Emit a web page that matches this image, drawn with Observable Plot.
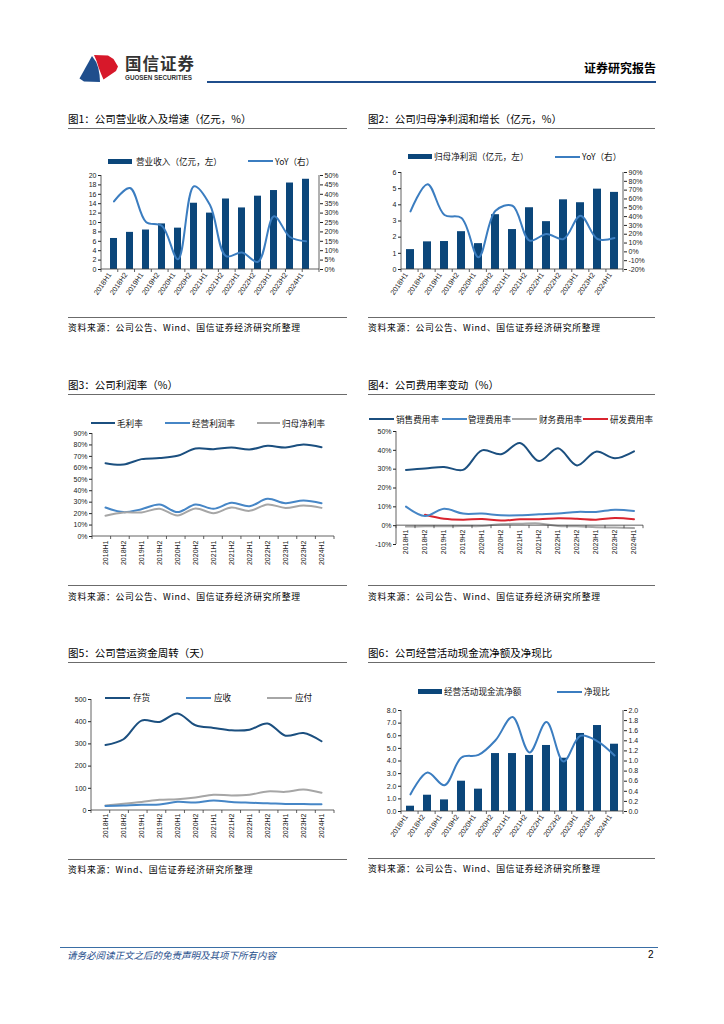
<!DOCTYPE html>
<html><head><meta charset="utf-8">
<script src="https://cdn.jsdelivr.net/npm/d3@7"></script>
<script src="https://cdn.jsdelivr.net/npm/@observablehq/plot@0.6"></script>
<style>
body{margin:0;background:#fff;}
#page{position:relative;width:724px;height:1024px;overflow:hidden;font-family:"Noto Sans CJK SC","Noto Sans",sans-serif;color:#000;background:#fff;}
.t{position:absolute;white-space:nowrap;}
.title{font-size:10.5px;line-height:12px;}
.src{font-size:8.8px;line-height:11px;letter-spacing:0.7px;}
.hr{position:absolute;height:0;border-top:1px solid #6b6b6b;}
.legtxt{position:absolute;white-space:nowrap;font-size:8.6px;line-height:12px;color:#111;}
svg{overflow:visible;}
</style></head>
<body><div id="page"></div>
<script>
// ---------------- data ----------------
const periods = ["2018H1","2018H2","2019H1","2019H2","2020H1","2020H2","2021H1","2021H2","2022H1","2022H2","2023H1","2023H2","2024H1"];

const revenue      = [6.6, 7.9, 8.4, 9.7, 8.8, 14.1, 12.0, 15.0, 13.1, 15.6, 16.8, 18.4, 19.2];
const revenueYoY   = [36.2, 43.3, 25.3, 23.1, 5.5, 44.3, 34.3, 7.1, 9.0, 4.1, 28.3, 17.3, 15.0];
const revTicks     = [0,2,4,6,8,10,12,14,16,18,20];
const revYoYTicks  = [0,5,10,15,20,25,30,35,40,45,50];

const netProfit    = [1.23, 1.71, 1.73, 2.34, 1.60, 3.39, 2.47, 3.82, 2.96, 4.31, 4.13, 4.97, 4.77];
const netProfitYoY = [45.9, 76.8, 41.8, 38.4, -6.1, 46.7, 52.3, 12.8, 20.3, 14.6, 41.0, 14.6, 15.8];
const npTicks      = [0,1,2,3,4,5,6];
const npYoYTicks   = [-20,-10,0,10,20,30,40,50,60,70,80,90];

const grossMargin  = [64.1, 62.9, 67.6, 68.5, 70.5, 76.9, 76.3, 77.8, 76.0, 79.2, 77.8, 80.4, 78.0];
const opMargin     = [25.3, 21.3, 23.9, 28.0, 21.3, 28.0, 24.2, 29.4, 26.5, 32.9, 29.1, 31.5, 29.1];
const netMargin    = [18.1, 21.0, 21.0, 24.2, 18.4, 24.5, 20.4, 25.3, 22.4, 28.0, 25.0, 27.1, 25.0];
const marginTicks  = [0,10,20,30,40,50,60,70,80,90];

const sellingRate  = [29.6, 30.3, 31.2, 29.6, 40.0, 37.9, 43.9, 34.3, 41.1, 32.0, 39.3, 35.8, 39.5];
const adminRate    = [10.1, 5.1, 9.0, 6.4, 6.4, 5.5, 5.5, 6.0, 6.4, 7.3, 7.3, 8.5, 7.8];
const financeRate  = [-0.5, -0.3, -0.3, -0.2, -0.2, 0.8, 1.0, 1.2, -0.2, -0.3, -0.8, -1.0, -1.3];
const rdRate       = [null, 5.8, 3.7, 3.2, 3.5, 2.7, 3.4, 3.4, 3.9, 3.7, 3.2, 4.1, 3.4];
const expenseTicks = [-10,0,10,20,30,40,50];

const inventoryDays  = [295, 321, 405, 399, 437, 384, 372, 361, 364, 392, 337, 349, 312];
const receivableDays = [20, 23, 26, 27, 39, 36, 45, 38, 35, 33, 29, 29, 28];
const payableDays    = [23, 30, 38, 48, 51, 59, 71, 68, 71, 86, 84, 95, 80];
const daysTicks      = [0,100,200,300,400,500];

const opCashFlow = [0.42, 1.29, 0.92, 2.40, 1.77, 4.59, 4.59, 4.44, 5.23, 4.22, 6.18, 6.81, 5.33];
const cashRatio  = [0.34, 0.77, 0.52, 1.07, 1.12, 1.41, 1.87, 1.17, 1.77, 0.99, 1.50, 1.39, 1.11];
const cfTicks    = [0,1,2,3,4,5,6,7,8];
const ratioTicks = [0,0.2,0.4,0.6,0.8,1.0,1.2,1.4,1.6,1.8,2.0];

// ---------------- styles ----------------
const NAVY="#0b467a", BLUE="#3b7dc0", DARK="#1b4f7f", MID="#4686c6", GREY="#a6a6a6", RED="#d9242f", AX="#3a3a3a";
const FONT="'Liberation Sans', Arial, sans-serif";
const page = document.getElementById("page");

function div(cls, x, y, html, extra){
  const d=document.createElement("div"); d.className=cls; d.style.left=x+"px"; d.style.top=y+"px";
  if(html!=null) d.innerHTML=html; if(extra) Object.assign(d.style, extra); page.appendChild(d); return d;
}
function hr(x1,x2,y,color,w){ return div("hr",x1,y,null,{width:(x2-x1)+"px",borderTop:(w||1)+"px solid "+(color||"#6b6b6b")}); }
function place(svg,x,y){ svg.style.position="absolute"; svg.style.left=x+"px"; svg.style.top=y+"px"; page.appendChild(svg); }

function legend(y, items){
  items.forEach(it=>{
    if(it.type==="bar") div("t",it.x,y-2.5,"",{width:it.w+"px",height:"5px",background:it.color});
    else div("t",it.x,y-1.2,"",{width:it.w+"px",height:"2.4px",background:it.color});
    div("legtxt",it.tx,y-6.5,it.label);
  });
}

function finishAxes(svg,o){
  const sy=svg.scale("y");
  const g=d3.select(svg).append("g").attr("stroke",AX).attr("stroke-width",0.8).attr("fill","none");
  const x0=o.mL, x1=o.W-o.mR, yT=o.mT, yB=o.H-o.mB;
  const yA=sy.apply(o.axisAt!=null?o.axisAt:sy.domain[0]);
  g.append("line").attr("x1",x0).attr("x2",x0).attr("y1",yT).attr("y2",yB);
  if(o.right) g.append("line").attr("x1",x1).attr("x2",x1).attr("y1",yT).attr("y2",yB);
  g.append("line").attr("x1",x0).attr("x2",x1).attr("y1",yA).attr("y2",yA);
  const step=(x1-x0)/o.n;
  for(let i=0;i<=o.n;i++) g.append("line").attr("x1",x0+i*step).attr("x2",x0+i*step).attr("y1",yA).attr("y2",yA+3);
}

function dualChart(o){
  const [L0,L1]=o.leftDomain,[R0,R1]=o.rightDomain;
  const toL=v=>L0+(v-R0)*(L1-L0)/(R1-R0);
  const fromL=v=>Math.round((R0+(v-L0)*(R1-R0)/(L1-L0))*1000)/1000;
  const rows=o.cats.map((c,i)=>({cat:c,bar:o.bars[i],line:o.line[i]}));
  const svg=Plot.plot({
    width:o.W,height:o.H,marginLeft:o.mL,marginRight:o.mR,marginTop:o.mT,marginBottom:o.mB,
    style:{fontFamily:FONT,fontSize:"7px",color:"#222",background:"transparent",overflow:"visible"},
    x:{type:"band",domain:o.cats,paddingInner:0.54,paddingOuter:0.27,label:null},
    y:{domain:o.leftDomain,label:null},
    marks:[
      Plot.barY(rows,{x:"cat",y:"bar",fill:NAVY}),
      Plot.line(rows,{x:"cat",y:d=>toL(d.line),stroke:BLUE,strokeWidth:2,curve:"catmull-rom"}),
      Plot.axisY({ticks:o.leftTicks,anchor:"left",label:null,tickSize:3,tickPadding:2,tickFormat:o.leftFmt,fontSize:7}),
      Plot.axisY({ticks:o.rightTicks.map(toL),anchor:"right",label:null,tickSize:3,tickPadding:2,tickFormat:d=>o.rightFmt(fromL(d)),fontSize:7}),
      Plot.axisX({tickSize:0,label:null,tickRotate:-55,tickPadding:4,dx:-4,fontSize:7.2})
    ]
  });
  finishAxes(svg,{...o,n:o.cats.length,right:true});
  place(svg,o.x,o.y);
}

function lineChart(o){
  const marks=o.series.map(s=>Plot.line(o.cats.map((c,i)=>({cat:c,v:s.values[i]})),
    {x:"cat",y:"v",stroke:s.color,strokeWidth:2,curve:"catmull-rom"}));
  marks.push(Plot.axisY({ticks:o.ticks,anchor:"left",label:null,tickSize:3,tickPadding:2,tickFormat:o.fmt,fontSize:7}));
  if(o.labelsAtZero){
    marks.push(Plot.text(o.cats,{x:d=>d,y:()=>0,text:d=>d,rotate:-90,textAnchor:"end",lineAnchor:"middle",dy:4,fontSize:7,fill:"#222"}));
  } else {
    marks.push(Plot.axisX({tickSize:0,label:null,tickRotate:-90,tickPadding:o.pad||4,fontSize:7}));
  }
  const svg=Plot.plot({
    width:o.W,height:o.H,marginLeft:o.mL,marginRight:o.mR,marginTop:o.mT,marginBottom:o.mB,
    style:{fontFamily:FONT,fontSize:"7px",color:"#222",background:"transparent",overflow:"visible"},
    x:{type:"band",domain:o.cats,padding:0,label:null,axis:o.labelsAtZero?null:undefined},
    y:{domain:o.domain,label:null},
    marks
  });
  finishAxes(svg,{...o,n:o.cats.length,right:false,axisAt:o.labelsAtZero?0:null});
  place(svg,o.x,o.y);
}

// ---------------- header ----------------
const logo=document.createElementNS("http://www.w3.org/2000/svg","svg");
logo.setAttribute("width","52");logo.setAttribute("height","36");logo.setAttribute("viewBox","70 50 52 36");
logo.innerHTML='<path d="M79.5,78.5 L92,56 Q96.5,61 98.3,68 Q100,75 100,82 L84,81.5 Z" fill="#1f4e8c"/>'+
  '<path d="M94,55 L108,55.5 L113.5,59 L118,66.5 L116,71 L103.5,79.5 Q101,74 98.8,68 Q97,61 94,55 Z" fill="#d7182a"/>';
place(logo,70,50);
div("t",125,52.5,"国信证券",{fontSize:"16.5px",fontWeight:"700",letterSpacing:"1px",color:"#333",lineHeight:"20px"});
div("t",125,73.5,"GUOSEN SECURITIES",{fontFamily:FONT,fontSize:"6.3px",fontWeight:"700",color:"#333",lineHeight:"8px"});
hr(207,656,80.5,"#1f4e8c",2);
div("t",578,60.5,"证券研究报告",{fontSize:"12px",fontWeight:"700",lineHeight:"14px",width:"78px",textAlign:"right"});

// ---------------- titles / sources ----------------
div("t title",68,113,"图1：公司营业收入及增速（亿元，%）"); hr(68,347,128,"#6b6b6b");
div("t title",368,113,"图2：公司归母净利润和增长（亿元，%）"); hr(368,655,128,"#6b6b6b");
hr(68,347,317,"#6b6b6b"); div("t src",68,322,"资料来源：公司公告、Wind、国信证券经济研究所整理");
hr(368,655,317,"#6b6b6b"); div("t src",368,322,"资料来源：公司公告、Wind、国信证券经济研究所整理");

div("t title",68,379,"图3：公司利润率（%）"); hr(68,347,394,"#6b6b6b");
div("t title",368,379,"图4：公司费用率变动（%）"); hr(368,655,394,"#6b6b6b");
hr(68,347,585,"#6b6b6b"); div("t src",68,590.5,"资料来源：公司公告、Wind、国信证券经济研究所整理");
hr(368,655,585,"#6b6b6b"); div("t src",368,590.5,"资料来源：公司公告、Wind、国信证券经济研究所整理");

div("t title",68,647,"图5：公司营运资金周转（天）"); hr(68,347,662,"#6b6b6b");
div("t title",368,647,"图6：公司经营活动现金流净额及净现比"); hr(368,655,662,"#6b6b6b");
hr(68,347,859,"#6b6b6b"); div("t src",68,864,"资料来源：Wind、国信证券经济研究所整理");
hr(368,655,858,"#6b6b6b"); div("t src",368,863,"资料来源：公司公告、Wind、国信证券经济研究所整理");

// ---------------- charts ----------------
const pct=d=>d+"%";
dualChart({x:68,y:168,W:290,H:140,mL:33,mR:39,mT:7,mB:39,cats:periods,bars:revenue,line:revenueYoY,
  leftDomain:[0,20],leftTicks:revTicks,leftFmt:d=>d,rightDomain:[0,50],rightTicks:revYoYTicks,rightFmt:pct});
legend(161,[{type:"bar",color:NAVY,x:108,w:24,tx:136,label:"营业收入（亿元，左）"},
            {type:"line",color:BLUE,x:248,w:25,tx:275,label:"YoY（右）"}]);

dualChart({x:368,y:165,W:290,H:143,mL:33,mR:35,mT:7,mB:39,cats:periods,bars:netProfit,line:netProfitYoY,
  leftDomain:[0,6],leftTicks:npTicks,leftFmt:d=>d,rightDomain:[-20,90],rightTicks:npYoYTicks,rightFmt:pct});
legend(156.7,[{type:"bar",color:NAVY,x:408,w:24,tx:434,label:"归母净利润（亿元，左）"},
              {type:"line",color:BLUE,x:555,w:25,tx:582,label:"YoY（右）"}]);

lineChart({x:68,y:426,W:280,H:144,mL:24,mR:14,mT:7,mB:34,cats:periods,domain:[0,90],ticks:marginTicks,fmt:pct,
  series:[{values:grossMargin,color:DARK},{values:opMargin,color:MID},{values:netMargin,color:GREY}]});
legend(423.3,[{type:"line",color:DARK,x:91,w:24,tx:117,label:"毛利率"},
              {type:"line",color:MID,x:165,w:25,tx:192,label:"经营利润率"},
              {type:"line",color:GREY,x:257,w:23,tx:282,label:"归母净利率"}]);

lineChart({x:368,y:425,W:290,H:145,mL:28,mR:15,mT:6,mB:26,cats:periods,domain:[-10,50],ticks:expenseTicks,fmt:pct,labelsAtZero:true,
  series:[{values:financeRate,color:GREY},{values:rdRate,color:RED},{values:adminRate,color:MID},{values:sellingRate,color:DARK}]});
legend(419,[{type:"line",color:DARK,x:369,w:25,tx:396,label:"销售费用率"},
            {type:"line",color:MID,x:442,w:25,tx:468,label:"管理费用率"},
            {type:"line",color:GREY,x:512,w:25,tx:539,label:"财务费用率"},
            {type:"line",color:RED,x:583,w:25,tx:610,label:"研发费用率"}]);

lineChart({x:68,y:690,W:280,H:155,mL:23,mR:14,mT:9,mB:35,cats:periods,domain:[0,500],ticks:daysTicks,fmt:d=>d,pad:3,
  series:[{values:payableDays,color:GREY},{values:receivableDays,color:MID},{values:inventoryDays,color:DARK}]});
legend(697.7,[{type:"line",color:DARK,x:105,w:25,tx:133,label:"存货"},
              {type:"line",color:MID,x:186,w:25,tx:214,label:"应收"},
              {type:"line",color:GREY,x:267,w:25,tx:295,label:"应付"}]);

dualChart({x:368,y:703,W:290,H:147,mL:33,mR:35,mT:7,mB:39,cats:periods,bars:opCashFlow,line:cashRatio,
  leftDomain:[0,8],leftTicks:cfTicks,leftFmt:d=>d.toFixed(1),rightDomain:[0,2],rightTicks:ratioTicks,rightFmt:d=>d.toFixed(1)});
legend(691.7,[{type:"bar",color:NAVY,x:418,w:24,tx:444,label:"经营活动现金流净额"},
              {type:"line",color:BLUE,x:557,w:25,tx:584,label:"净现比"}]);

// ---------------- footer ----------------
hr(60,658,947,"#3a6ea5",1);
div("t",67,949,"请务必阅读正文之后的免责声明及其项下所有内容",{fontSize:"9.5px",fontStyle:"italic",color:"#1f4e8c",lineHeight:"12px"});
div("t",648,949,"2",{fontFamily:FONT,fontSize:"10px",lineHeight:"12px"});
</script>
</body></html>
